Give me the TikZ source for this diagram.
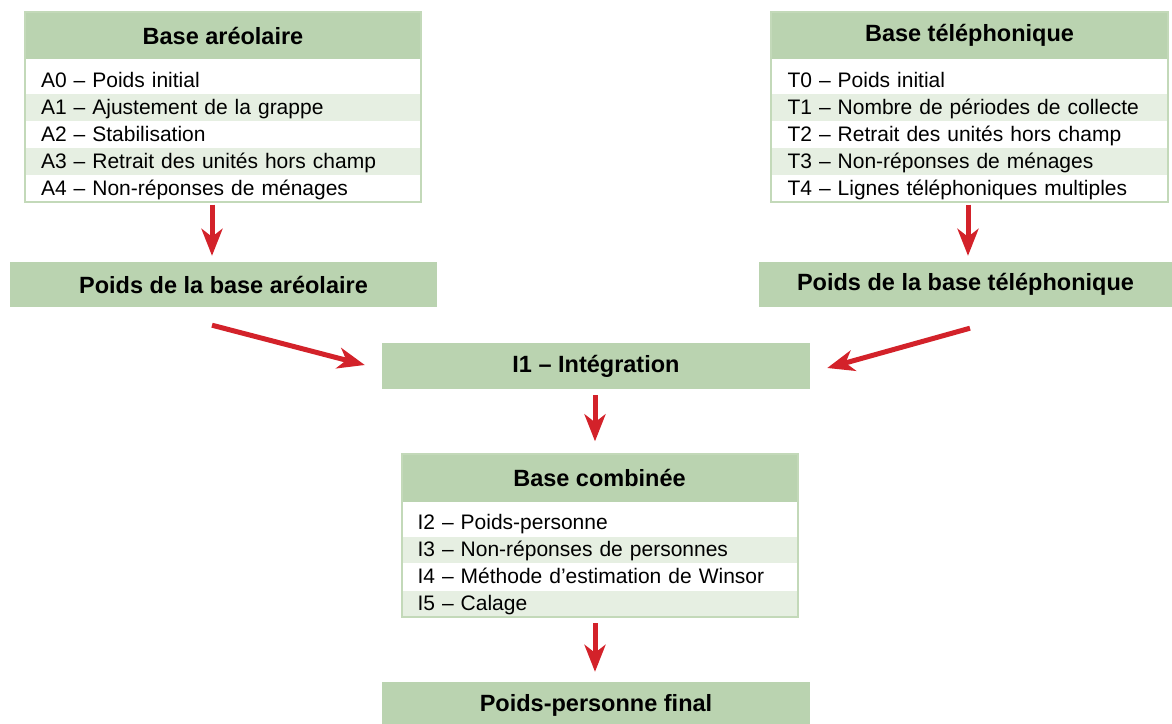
\documentclass[tikz,border=0pt]{standalone}
\usepackage{fontspec}
\setmainfont{Liberation Sans}
\usepackage{tikz}
\usetikzlibrary{arrows,arrows.meta}
\usetikzlibrary{positioning}
\usetikzlibrary{calc}
\definecolor{hdrgreen}{HTML}{BAD3B0}
\definecolor{rowgreen}{HTML}{E6EFE2}
\definecolor{framegreen}{HTML}{C3D9B9}
\definecolor{flowred}{HTML}{D3222A}

\begin{document}
\begin{tikzpicture}[x=1pt,y=-1pt,
	hdr/.style={fill=hdrgreen,minimum width=396pt,minimum height=47pt,inner sep=0pt,font=\bfseries\fontsize{23.5}{28}\selectfont},
	row/.style={minimum width=396pt,minimum height=26.5pt,inner ysep=3pt,inner xsep=16pt,text width=364pt,text height=17pt,text depth=3.5pt,align=left,font=\fontsize{21}{25}\selectfont},
	alt/.style={row,fill=rowgreen},
	frame/.style={draw=framegreen,line width=2pt},
	flow/.style={draw=flowred,line width=5pt,-{Stealth[length=27pt,width=21pt,inset=8pt]}}]
	\useasboundingbox (0,0) rectangle (1172,723);
	% Base areolaire
	\node[hdr](hA) at (223,35.5){Base aréolaire};
	\node[row,below=8pt of hA](a0){A0 – Poids initial};
	\node[alt,below=0pt of a0](a1){A1 – Ajustement de la grappe};
	\node[row,below=0pt of a1](a2){A2 – Stabilisation};
	\node[alt,below=0pt of a2](a3){A3 – Retrait des unités hors champ};
	\node[row,below=0pt of a3](a4){A4 – Non-réponses de ménages};
	\draw[frame] (hA.north west) rectangle (a4.south east);
	% Base telephonique
	\node[hdr](hT) at (969.5,35.5){Base téléphonique};
	\node[row,below=8pt of hT](t0){T0 – Poids initial};
	\node[alt,below=0pt of t0](t1){T1 – Nombre de périodes de collecte};
	\node[row,below=0pt of t1](t2){T2 – Retrait des unités hors champ};
	\node[alt,below=0pt of t2](t3){T3 – Non-réponses de ménages};
	\node[row,below=0pt of t3](t4){T4 – Lignes téléphoniques multiples};
	\draw[frame] (hT.north west) rectangle (t4.south east);
	% poids
	\node[hdr,minimum width=427pt,minimum height=45pt](pA) at (223.5,284.5){Poids de la base aréolaire};
	\node[hdr,minimum width=413pt,minimum height=45pt](pT) at (965.5,284.5){Poids de la base téléphonique};
	\node[hdr,minimum width=428pt,minimum height=46pt](int) at (596,366){I1 – Intégration};
	% Base combinee
	\node[hdr,minimum width=395pt](hC) at (599.5,478){Base combinée};
	\node[row,below=8pt of hC](c2){I2 – Poids-personne};
	\node[alt,below=0pt of c2](c3){I3 – Non-réponses de personnes};
	\node[row,below=0pt of c3](c4){I4 – Méthode d’estimation de Winsor};
	\node[alt,below=0pt of c4](c5){I5 – Calage};
	\draw[frame] (hC.north west) rectangle (c5.south east);
	\node[hdr,minimum width=428pt,minimum height=46pt](fin) at (596,705){Poids-personne final};
	% fleches
	\draw[flow] ([xshift=-11pt,yshift=-3pt]a4.south) -- ([xshift=-11.5pt,yshift=6pt]pA.north);
	\draw[flow] ([xshift=-1.5pt,yshift=-3pt]t4.south) -- ([xshift=2.5pt,yshift=6pt]pT.north);
	\draw[flow] ([xshift=-11.5pt,yshift=-18pt]pA.south) -- ([xshift=-17pt,yshift=1pt]int.west);
	\draw[flow] ([xshift=4.5pt,yshift=-21pt]pT.south) -- ([xshift=17pt,yshift=-2pt]int.east);
	\draw[flow] ([xshift=-1pt,yshift=-6pt]int.south) -- ([xshift=-4.5pt,yshift=13pt]hC.north);
	\draw[flow] ([xshift=-4.5pt,yshift=-6pt]c5.south) -- ([xshift=-1pt,yshift=10pt]fin.north);
\end{tikzpicture}
\end{document}
